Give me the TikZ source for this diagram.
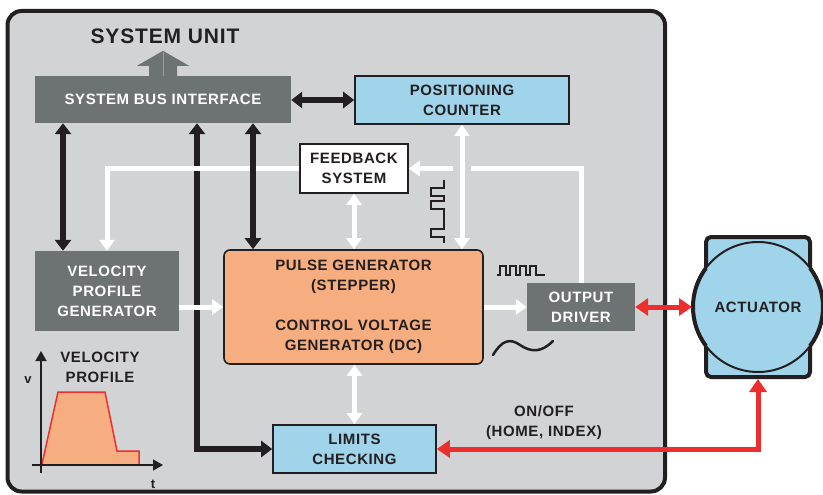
\documentclass[tikz,border=0pt]{standalone}
\usepackage{fontspec}
\setmainfont{Liberation Sans}[LetterSpace=4]
\usetikzlibrary{arrows.meta}
\definecolor{bg}{HTML}{D1D3D4}
\definecolor{dg}{HTML}{6D7372}
\definecolor{lb}{HTML}{A0D4EA}
\definecolor{sal}{HTML}{F6AE80}
\definecolor{rd}{HTML}{EE2D2E}
\definecolor{ink}{HTML}{231F20}
\begin{document}
\begin{tikzpicture}[x=1pt,y=-1pt,
                font=\fontsize{15}{20}\selectfont\bfseries,
                box/.style={draw=ink, line width=1.6, fill=lb, text=ink, align=center, inner sep=0},
                gbox/.style={fill=dg, text=white, align=center, inner sep=0},
                blk/.style={ink, line width=6, {Triangle[length=11pt,width=16pt]}-{Triangle[length=11pt,width=16pt]}},
                wht/.style={white, line width=5, -{Triangle[length=11pt,width=15pt]}},
                wht2/.style={white, line width=5, {Triangle[length=11pt,width=15pt]}-{Triangle[length=11pt,width=15pt]}},
                red2/.style={rd, line width=5, {Triangle[length=13pt,width=17pt]}-{Triangle[length=13pt,width=17pt]}},
                txt/.style={text=ink, align=center, inner sep=0}]
                \useasboundingbox (0,0) rectangle (823,495);
                \draw[ink, line width=4, fill=bg, rounded corners=14] (7.5,11) rectangle (665,491.5);

                \node[txt, font=\fontsize{21}{24}\selectfont\bfseries] (su) at (165,36) {SYSTEM UNIT};
                \node[gbox, minimum width=256, minimum height=47] (sbi) at (163,99.5) {SYSTEM BUS INTERFACE};
                \node[box, minimum width=214, minimum height=48] (pc) at (462,100) {POSITIONING\\COUNTER};
                \node[box, fill=white, minimum width=108, minimum height=49] (fbk) at (354,168.5) {FEEDBACK\\SYSTEM};
                \node[gbox, minimum width=144, minimum height=80] (vpg) at (107,291) {VELOCITY\\PROFILE\\GENERATOR};
                \node[box, fill=sal, rounded corners=6, minimum width=259, minimum height=114] (pg) at (353.5,307)
                    {PULSE GENERATOR\\(STEPPER)\\[20pt]CONTROL VOLTAGE\\GENERATOR (DC)};
                \node[gbox, minimum width=108, minimum height=48] (odr) at (581,307) {OUTPUT\\DRIVER};
                \node[box, minimum width=163, minimum height=48] (lc) at (354.5,449) {LIMITS\\CHECKING};
                \node[txt] (onoff) at (544,423) {ON/OFF\\(HOME, INDEX)};

                \node[draw=ink, line width=4, fill=lb, rounded corners=5, minimum width=104, minimum height=140] (actbox) at (758,307) {};
                \node[shape=circle, draw=ink, line width=2, fill=lb, text=ink, minimum size=130, inner sep=0] (act) at (758,307) {ACTUATOR};
                \draw[ink, line width=4] (act.center) ++(-52,-39) arc[start angle=216.87, end angle=143.13, radius=65];
                \draw[ink, line width=4] (act.center) ++(52,-39) arc[start angle=-36.87, end angle=36.87, radius=65];

                \fill[dg] ([xshift=-14]sbi.north) -- ++(0,-10) -- ++(-12,0) -- ++(26,-15) -- ++(26,15) -- ++(-12,0) -- ++(0,10) -- cycle;
                \draw[dg!70!white, line width=0.8] (sbi.north) -- ++(0,-24);

                \coordinate (c1) at (63,0);
                \coordinate (c2) at (197,0);
                \coordinate (c3) at (253,0);

                \draw[blk] (sbi.south -| c2) |- (lc.west);

                \draw[wht] (fbk.west) -| (vpg.north);
                \draw[wht] (odr.north) |- (fbk.east);
                \draw[wht] (vpg.east |- pg.west) -- (pg.west);
                \draw[wht] (pg.east) -- (odr.west);
                \draw[wht2, preaction={draw=bg, line width=18, -, shorten <=30pt, shorten >=30pt}] (pc.south) -- (pc.south |- pg.north);
                \draw[wht2] (fbk.south) -- (fbk.south |- pg.north);
                \draw[wht2] (pg.south -| lc.north) -- (lc.north);

                \draw[blk] (sbi.south -| c1) -- (vpg.north -| c1);
                \draw[blk] (sbi.south -| c3) -- (pg.north -| c3);
                \draw[blk] (sbi.east |- pc.west) -- (pc.west);

                \draw[red2] (odr.east) -- (act.west);
                \draw[red2] (actbox.south) |- (lc.east);

                \draw[ink, line width=1.5] (444,180) -- (444,188) -- (431,188) -- (431,196) -- (444,196) -- (444,201) -- (431,201)
                    -- (431,209) -- (444,209) -- (444,229) -- (431,229) -- (431,237) -- (444,237) -- (444,243);
                \draw[ink, line width=1.5] (497,275) -- (500,275) -- (500,266) -- (506,266) -- (506,275) -- (510,275) -- (510,266)
                    -- (516,266) -- (516,275) -- (520,275) -- (520,266) -- (526,266) -- (526,275) -- (530,275) -- (530,266)
                    -- (536,266) -- (536,275) -- (545,275);
                \draw[ink, line width=2.5, line cap=round] (493,355) .. controls (502,340) and (510,338) .. (520,345)
                    .. controls (532,353) and (542,352) .. (553,341);

                \node[txt] (vp) at (100,367) {VELOCITY\\PROFILE};
                \fill[sal] (42,464) -- (58,392) -- (105,392) -- (117,451) -- (139,451) -- (139,464) -- cycle;
                \draw[rd, line width=1.5] (42,464) -- (58,392) -- (105,392) -- (117,451) -- (139,451) -- (139,464);
                \draw[ink, line width=1.5, -{Triangle[length=10pt,width=11pt]}] (41,473) -- (41,351);
                \draw[ink, line width=1.5, -{Triangle[length=10pt,width=11pt]}] (32,465) -- (163,465);
                \node[txt, font=\fontsize{13}{15}\selectfont\bfseries] (v) at (28,380) {v};
                \node[txt, font=\fontsize{13}{15}\selectfont\bfseries] (t) at (153,484) {t};
\end{tikzpicture}
\end{document}
